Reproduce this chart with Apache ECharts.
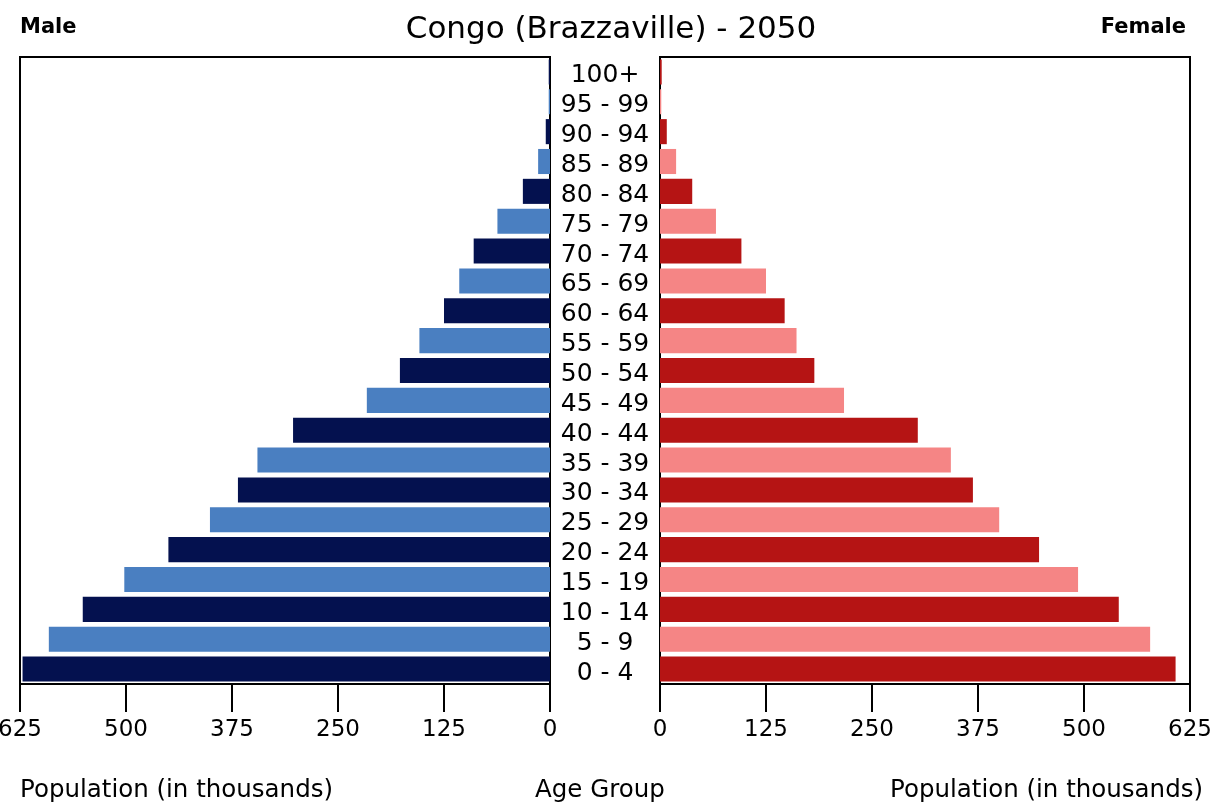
<!DOCTYPE html>
<html>
<head>
<meta charset="utf-8">
<script src="https://cdn.jsdelivr.net/npm/echarts@6/dist/echarts.min.js"></script>
<style>
  html, body { margin: 0; padding: 0; background: #fff; }
  #chart { width: 1222px; height: 805px; }
</style>
</head>
<body>
<div id="chart"></div>
<script>
  // age groups from youngest (bottom) to oldest (top)
  var ageGroups = ['0 - 4', '5 - 9', '10 - 14', '15 - 19', '20 - 24', '25 - 29', '30 - 34',
    '35 - 39', '40 - 44', '45 - 49', '50 - 54', '55 - 59', '60 - 64', '65 - 69',
    '70 - 74', '75 - 79', '80 - 84', '85 - 89', '90 - 94', '95 - 99', '100+'];
  // population in thousands
  var maleValues = [622, 591, 551, 502, 450, 401, 368, 345, 303, 216, 177, 154, 125, 107, 90, 62, 32, 14, 5, 1.5, 1.5];
  var femaleValues = [608, 578, 541, 493, 447, 400, 369, 343, 304, 217, 182, 161, 147, 125, 96, 66, 38, 19, 8, 1.5, 2];
  var popTicks = [0, 125, 250, 375, 500, 625];

  var maleColors = ['#04114f', '#4a7fc1'];
  var femaleColors = ['#b51414', '#f58585'];
  var font = 'DejaVu Sans';

  var chart = echarts.init(document.getElementById('chart'));

  var valueAxis = function (gridIndex, inverse) {
    return {
      type: 'value',
      gridIndex: gridIndex,
      inverse: inverse,
      min: popTicks[0],
      max: popTicks[popTicks.length - 1],
      interval: 125,
      splitLine: { show: false },
      axisLine: { show: true, lineStyle: { color: '#000', width: 2 } },
      axisTick: { show: true, length: 28, lineStyle: { color: '#000', width: 2 } },
      axisLabel: { color: '#000', fontSize: 23, fontFamily: font, margin: 35, showMinLabel: true, showMaxLabel: true }
    };
  };

  var option = {
    animation: false,
    backgroundColor: '#fff',
    title: {
      text: 'Congo (Brazzaville) - 2050',
      left: 'center',
      top: 9,
      textStyle: { fontSize: 31, fontWeight: 'normal', fontFamily: font, color: '#000' }
    },
    grid: [
      { left: 20, width: 530, top: 57, height: 627, show: true, borderColor: '#000', borderWidth: 2, outerBoundsMode: 'none' },
      { left: 660, width: 530, top: 57, height: 627, show: true, borderColor: '#000', borderWidth: 2, outerBoundsMode: 'none' },
      // labels only, sitting a few px lower like the original
      { left: 20, width: 530, top: 61, height: 627, show: false, outerBoundsMode: 'none' }
    ],
    xAxis: [
      valueAxis(0, true),
      valueAxis(1, false),
      { type: 'value', gridIndex: 2, show: false, min: 0, max: 625 }
    ],
    yAxis: [
      {
        type: 'category',
        gridIndex: 0,
        position: 'right',
        data: ageGroups,
        axisLine: { show: false },
        axisTick: { show: false },
        axisLabel: { show: false }
      },
      {
        type: 'category',
        gridIndex: 1,
        position: 'left',
        data: ageGroups,
        axisLine: { show: false },
        axisTick: { show: false },
        axisLabel: { show: false }
      },
      {
        type: 'category',
        gridIndex: 2,
        position: 'right',
        data: ageGroups,
        axisLine: { show: false },
        axisTick: { show: false },
        axisLabel: { interval: 0, color: '#000', fontSize: 25, fontFamily: font, align: 'center', margin: 55 }
      }
    ],
    series: [
      {
        name: 'Male',
        type: 'bar',
        xAxisIndex: 0,
        yAxisIndex: 0,
        data: maleValues,
        barWidth: '84%',
        itemStyle: { color: function (p) { return maleColors[p.dataIndex % 2]; } }
      },
      {
        name: 'Female',
        type: 'bar',
        xAxisIndex: 1,
        yAxisIndex: 1,
        data: femaleValues,
        barWidth: '84%',
        itemStyle: { color: function (p) { return femaleColors[p.dataIndex % 2]; } }
      }
    ],
    graphic: [
      { type: 'text', left: 20, top: 17, style: { text: 'Male', fontSize: 21, fontWeight: 'bold', fontFamily: font, fill: '#000' } },
      { type: 'text', right: 36, top: 17, style: { text: 'Female', fontSize: 21, fontWeight: 'bold', fontFamily: font, fill: '#000' } },
      { type: 'text', left: 20, top: 778, style: { text: 'Population (in thousands)', fontSize: 24.5, fontFamily: font, fill: '#000' } },
      { type: 'text', left: 535, top: 778, style: { text: 'Age Group', fontSize: 24.5, fontFamily: font, fill: '#000' } },
      { type: 'text', left: 890, top: 778, style: { text: 'Population (in thousands)', fontSize: 24.5, fontFamily: font, fill: '#000' } }
    ]
  };

  chart.setOption(option);
</script>
</body>
</html>
